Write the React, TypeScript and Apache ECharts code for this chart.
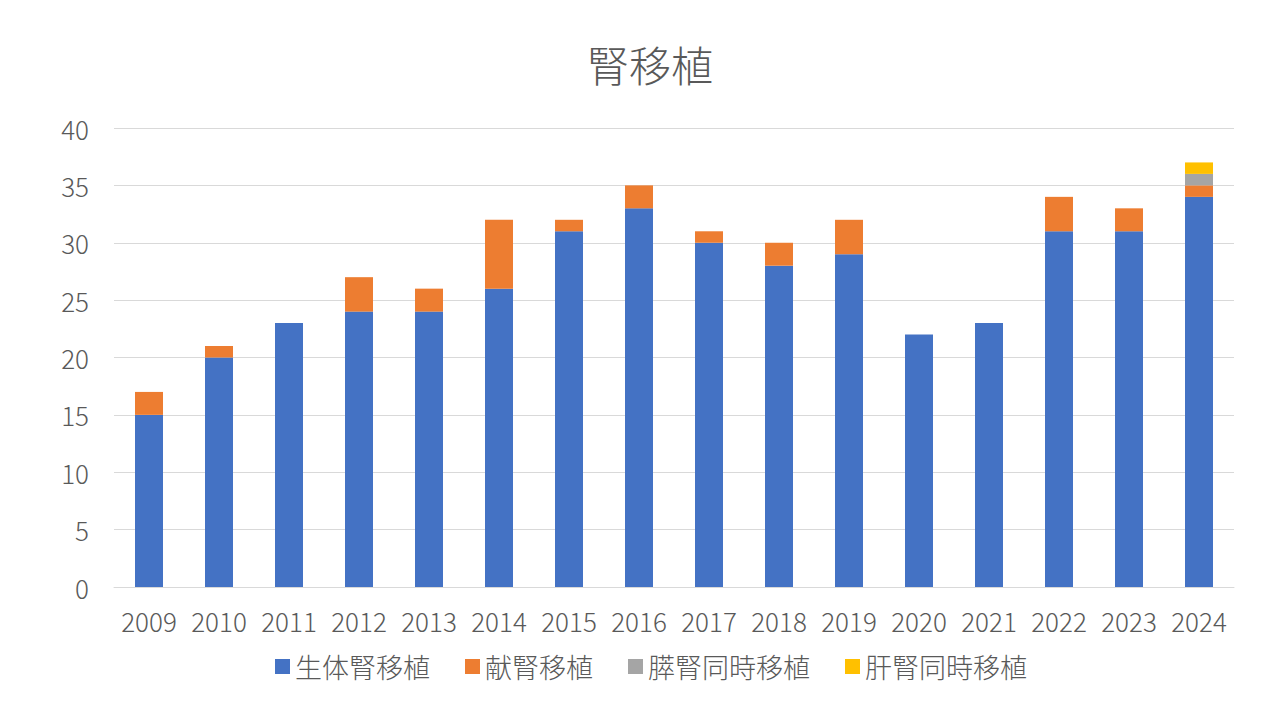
import React, { useEffect, useRef } from "react";
import * as echarts from "echarts";

const years = ["2009", "2010", "2011", "2012", "2013", "2014", "2015", "2016", "2017", "2018", "2019", "2020", "2021", "2022", "2023", "2024"];
const livingKidney = [15, 20, 23, 24, 24, 26, 31, 33, 30, 28, 29, 22, 23, 31, 31, 34];
const deceasedKidney = [2, 1, 0, 3, 2, 6, 1, 2, 1, 2, 3, 0, 0, 3, 2, 1];
const pancreasKidney = [0, 0, 0, 0, 0, 0, 0, 0, 0, 0, 0, 0, 0, 0, 0, 1];
const liverKidney = [0, 0, 0, 0, 0, 0, 0, 0, 0, 0, 0, 0, 0, 0, 0, 1];
const seriesNames = ["生体腎移植", "献腎移植", "膵腎同時移植", "肝腎同時移植"];
const colors = ["#4472C4", "#ED7D31", "#A5A5A5", "#FFC000"];

const FONT = "'Noto Sans CJK JP', 'Noto Sans', sans-serif";

export default function App() {
  const ref = useRef<HTMLDivElement>(null);
  useEffect(() => {
    document.body.style.margin = "0";
    const chart = echarts.init(ref.current!, null, { renderer: "svg" });
    const datasets = [livingKidney, deceasedKidney, pancreasKidney, liverKidney];
    chart.setOption({
      animation: false,
      backgroundColor: "#ffffff",
      title: {
        text: "腎移植",
        left: 582,
        top: 37,
        textStyle: { fontFamily: FONT, fontSize: 42, fontWeight: 300, color: "#595959" },
      },
      legend: {
        bottom: 35,
        left: 270,
        icon: "rect",
        itemWidth: 15,
        itemHeight: 15,
        itemGap: 35,
        textStyle: { fontFamily: FONT, fontSize: 27, fontWeight: 300, color: "#595959" },
        data: seriesNames,
      },
      grid: { left: 114, right: 46, top: 128, bottom: 133 },
      xAxis: {
        type: "category",
        data: years,
        axisLine: { lineStyle: { color: "#D9D9D9" } },
        axisTick: { show: false },
        axisLabel: { interval: 0, fontFamily: FONT, fontSize: 26, fontWeight: 300, color: "#595959", margin: 20 },
      },
      yAxis: {
        type: "value",
        min: 0,
        max: 40,
        interval: 5,
        axisLine: { show: false },
        axisTick: { show: false },
        splitLine: { lineStyle: { color: "#D9D9D9" } },
        axisLabel: { fontFamily: FONT, fontSize: 26, fontWeight: 300, color: "#595959", margin: 25 },
      },
      series: seriesNames.map((name, i) => ({
        name,
        type: "bar",
        stack: "total",
        barWidth: "40%",
        itemStyle: { color: colors[i] },
        data: datasets[i],
      })),
    });
    return () => chart.dispose();
  }, []);
  return <div ref={ref} style={{ position: "absolute", left: 0, top: 0, width: 1280, height: 720 }} />;
}
